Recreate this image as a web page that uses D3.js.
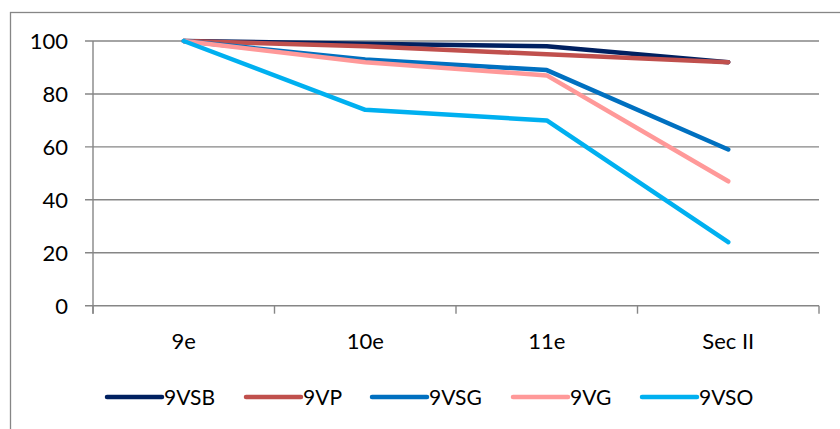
<!DOCTYPE html>
<html><head><meta charset="utf-8">
<script src="https://cdn.jsdelivr.net/npm/d3@7"></script>
<style>body{margin:0;background:#fff}svg{display:block}text{font-family:Lato,"Open Sans",sans-serif;fill:#000}</style>
</head><body><svg id="c" width="840" height="429"></svg>
<script>
const categories = ["9e","10e","11e","Sec II"];
const seriesNames = ["9VSB","9VP","9VSG","9VG","9VSO"];
const v9VSB = [100, 99, 98, 92];
const v9VP  = [100, 98, 95, 92];
const v9VSG = [100, 93, 89, 59];
const v9VG  = [100, 92, 87, 47];
const v9VSO = [100, 74, 70, 24];
const colors = ["#002060","#C0504D","#0070C0","#FF9999","#00B0F0"];
const yTicks = [0,20,40,60,80,100];
const series = [v9VSB, v9VP, v9VSG, v9VG, v9VSO].map((vals,i)=>({name:seriesNames[i], values:vals, color:colors[i]}));

const svg = d3.select("#c");
const grey = "#868686";
svg.append("rect").attr("x",10.5).attr("y",12.5).attr("width",900).attr("height",500)
  .attr("fill","none").attr("stroke",grey).attr("stroke-width",1.3);

const pL = 93, pR = 819, pT = 41, pB = 305.7;
const x = d3.scaleBand().domain(categories).range([pL,pR]).padding(0);
const y = d3.scaleLinear().domain([0,100]).range([pB,pT]);

const g = svg.append("g");
g.selectAll("line.grid").data(yTicks).join("line")
  .attr("x1",pL-8).attr("x2",pR).attr("y1",d=>y(d)).attr("y2",d=>y(d))
  .attr("stroke",grey).attr("stroke-width",1.4);
g.append("line").attr("x1",pL).attr("x2",pL).attr("y1",pT).attr("y2",pB+8)
  .attr("stroke",grey).attr("stroke-width",1.4);
const bounds = categories.map(c=>x(c)).concat([pR]);
g.selectAll("line.xt").data(bounds).join("line")
  .attr("x1",d=>d).attr("x2",d=>d).attr("y1",pB).attr("y2",pB+8)
  .attr("stroke",grey).attr("stroke-width",1.4);
g.selectAll("text.yl").data(yTicks).join("text")
  .attr("x",68).attr("y",d=>y(d)).attr("dy","0.36em").attr("text-anchor","end")
  .attr("font-size",22).text(d=>d);
g.selectAll("text.xl").data(categories).join("text")
  .attr("x",d=>x(d)+x.bandwidth()/2).attr("y",349).attr("text-anchor","middle")
  .attr("font-size",22).text(d=>d);

const line = d3.line().x((d,i)=>x(categories[i])+x.bandwidth()/2).y(d=>y(d));
svg.append("g").selectAll("path").data(series).join("path")
  .attr("d",d=>line(d.values)).attr("fill","none").attr("stroke",d=>d.color)
  .attr("stroke-width",4.5).attr("stroke-linecap","round").attr("stroke-linejoin","round");

const legX = [107,246,372,513,642];
const lg = svg.append("g").selectAll("g").data(series).join("g")
  .attr("transform",(d,i)=>`translate(${legX[i]},397)`);
lg.append("line").attr("x1",0).attr("x2",55).attr("y1",0).attr("y2",0)
  .attr("stroke",d=>d.color).attr("stroke-width",4.5).attr("stroke-linecap","round");
lg.append("text").attr("x",57).attr("y",0).attr("dy","0.36em").attr("font-size",21).text(d=>d.name);
</script></body></html>
